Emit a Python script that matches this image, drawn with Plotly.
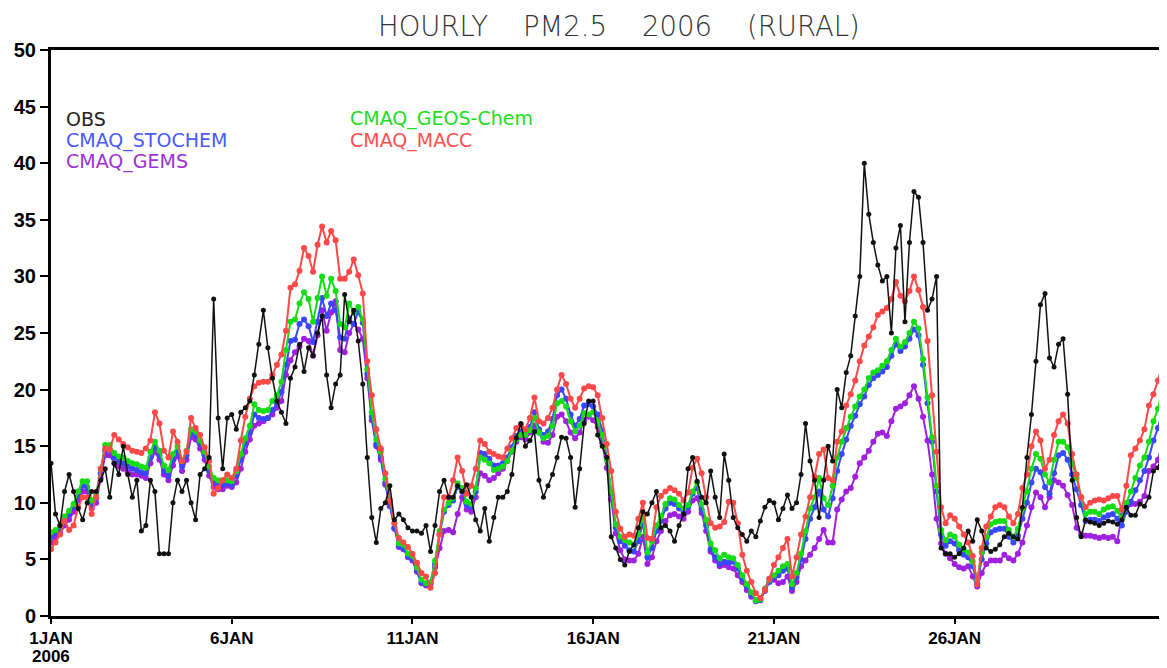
import pandas as pd
import plotly.graph_objects as go

# ---- data (3-hourly readings, 1 Jan 2006 00h onward) ----
obs = [
    13.5, 9, 8, 11, 12.5, 11, 9.5, 8.5,
    10, 11, 11, 12, 13, 10.5, 13.5, 12.5,
    15, 12.5, 10.5, 12, 7.5, 8, 12, 11,
    5.5, 5.5, 5.5, 10, 12, 11, 12, 10,
    8.5, 12.5, 13, 14, 28, 17.5, 13, 17.5,
    17.8, 16.5, 18, 18.4, 19, 21.3, 24, 27,
    23.7, 21, 19, 18, 17, 21, 22, 24,
    21.6, 23.7, 23, 25, 26.5, 21.3, 18.4, 20.5,
    21.3, 28.4, 26, 27, 24.3, 20.5, 14, 8.7,
    6.5, 9.5, 10, 11.5, 8.5, 9, 8.5, 7.8,
    7.5, 7.5, 7.3, 8, 5.7, 8, 11, 12,
    10.5, 10.5, 11.5, 11, 11.6, 10.5, 8.5, 7.5,
    9.5, 6.6, 8.7, 10.5, 10.5, 11, 12.5, 15.7,
    17, 15, 15.5, 16.3, 12, 10.5, 11.5, 12.5,
    14, 15.8, 15.7, 14, 9.6, 13, 17, 19,
    19, 16, 15, 14, 7, 6, 5, 4.5,
    5.7, 6.3, 7.8, 9.2, 9, 10, 11, 7.8,
    8, 7.5, 6.6, 8, 9, 13, 14, 11.9,
    10.5, 10, 12.8, 10.5, 8.7, 14.3, 12, 8.7,
    7.8, 7.2, 6.6, 7.5, 7, 8.4, 9.6, 10.2,
    10, 8.5, 9.5, 10.7, 9.5, 10, 12.5, 17,
    13.7, 12, 8.7, 12, 15, 13.7, 20, 18.4,
    21.5, 23, 26.5, 30, 40, 35.5, 33, 31,
    29.6, 30, 25, 32.5, 34.5, 26, 33, 37.5,
    37, 33, 27, 28, 30, 6, 5.5, 5.5,
    5.2, 5.5, 6, 7.5, 6.6, 8.5, 7.5, 6,
    5.7, 5.9, 6.3, 7, 7.3, 7, 6.8, 9.6,
    14, 17.8, 22.5, 27.5, 28.5, 22.8, 22, 24,
    24.5, 19.6, 12, 8.7, 7, 8.5, 8.3, 8.2,
    8, 8.2, 8.4, 8.3, 8.1, 8.5, 9.6, 8.9,
    8.9, 9.9, 9.7, 10.5, 12.8, 13.1, 14.5, 17,
]

cmaq_stochem = [
    7, 7.3, 7.7, 8.5, 9, 9.6, 10.6, 11.5,
    11.4, 9.8, 10.4, 12.6, 14.6, 14.7, 14, 13.7,
    13.5, 13.2, 13, 12.9, 12.7, 12.6, 14, 15,
    14.2, 12.8, 12.4, 13.8, 14.6, 13.2, 14.2, 16.2,
    16, 15.2, 14.2, 12.8, 11.8, 11.6, 11.6, 11.7,
    11.6, 12.4, 13.8, 15.2, 16.2, 17.8, 17.5, 17.4,
    17.5, 18.2, 18.8, 19.8, 22.2, 24.3, 24.4, 25.8,
    26.2, 25.6, 24.2, 26, 28.1, 26.5, 27.6, 27,
    24.6, 24.5, 26.3, 25.8, 26.9, 25.9, 21.4, 17.6,
    15.2, 14, 11.8, 9.8, 7.8, 6.2, 6, 5.3,
    5, 4, 3, 2.8, 2.9, 4.6, 7.2, 9.2,
    9.8, 10.2, 11.4, 11, 9.8, 9.6, 11, 14.4,
    14.3, 13.9, 13.3, 13.3, 13.5, 14, 14.9, 15.9,
    16.3, 16.2, 16.7, 18, 16.5, 16, 16.3, 17.4,
    19.5, 20, 19.2, 17.8, 16.8, 17.4, 18.6, 18.7,
    18.5, 17.8, 16.4, 14, 10.8, 7.8, 6.6, 6.2,
    5.8, 5.7, 6.6, 8.3, 5.2, 6, 7.5, 8.4,
    9.5, 10, 9.9, 9.5, 9.2, 9.6, 10.8, 11.3,
    9.4, 8, 5.9, 5.2, 4.6, 4.8, 4.7, 4.8,
    4.2, 3.3, 2.6, 1.9, 1.3, 1.4, 2.2, 3,
    3.4, 3.6, 4, 4.2, 2.5, 3.4, 5, 6.8,
    8.6, 9.6, 11, 9.4, 8.8, 10.4, 12.8, 14.3,
    15.6, 16.8, 17.7, 18.7, 19.4, 20.4, 21, 21.3,
    21.6, 22, 23, 24, 23.4, 23.8, 24.5, 25.3,
    24.8, 22.2, 18.8, 15.4, 11, 7.2, 6.2, 6.6,
    6.4, 5.8, 5.4, 5.2, 4.4, 2.9, 5, 6.4,
    7.4, 7.6, 7.7, 7.7, 7, 6.5, 7.1, 8.6,
    10, 11.8, 13, 12.7, 11.4, 10.8, 12.6, 14.2,
    14.4, 13.8, 12.5, 11.2, 9.8, 8.4, 8.5, 8.5,
    8.4, 8.7, 8.9, 9, 8.6, 8, 9.2, 10.1,
    11.1, 12, 12.8, 14, 15.5, 16.6, 18.2, 19.4,
]

cmaq_gems = [
    6.5, 6.9, 7.3, 8, 8.5, 9.2, 10.2, 11,
    11, 9.5, 10, 12.2, 14.2, 14.2, 13.5, 13.2,
    13, 12.7, 12.5, 12.5, 12.4, 12.2, 13.5, 14.5,
    13.8, 12.5, 12, 13.3, 14.2, 12.8, 13.8, 15.8,
    15.6, 14.8, 13.8, 12.4, 11.4, 11.2, 11.2, 11.5,
    11.4, 11.8, 13, 14.5, 15.6, 16.8, 17, 17.2,
    17.5, 17.8, 18.4, 19, 21.3, 22.6, 23.3, 23.8,
    24.5, 24.3, 23, 24.8, 27, 25.2, 26.8, 27.8,
    23.5, 23.3, 25, 25.8, 25.3, 24.5, 21, 17.3,
    15, 13.8, 11.6, 9.7, 7.7, 6.1, 5.9, 5.2,
    4.9, 3.9, 2.9, 2.7, 2.8, 4.3, 6, 7.5,
    7.6, 7.4, 9, 10.5, 9.4, 9.2, 10.5, 12.6,
    12.4, 12, 12.2, 12.6, 13, 13.7, 14.5, 15.4,
    15.8, 15.6, 16.2, 16.8, 16.2, 15.4, 15.3, 16,
    17.6, 17.8, 17.2, 16.2, 15.7, 16.2, 17.3, 17.6,
    17.3, 16.7, 15.3, 13.1, 10.3, 7.3, 5.8, 5,
    4.9, 4.9, 5.5, 7, 4.6, 5.2, 6.6, 7.5,
    8.4, 8.9, 9, 8.8, 8.6, 9.2, 10.2, 10.4,
    9.1, 7.5, 5.7, 4.9, 4.4, 4.5, 4.3, 4.2,
    3.6, 3, 2.3, 1.7, 1.4, 1.5, 2.4, 3.3,
    3.2, 2.9, 3, 3.5, 2.2, 3, 4.4, 4.9,
    5.4, 6, 6.8, 7.6, 6.5, 6.5, 9.4, 10.3,
    11, 11.3, 12.3, 13.5, 14, 14.6, 15.4, 16.1,
    16.2, 15.9, 17.2, 18.3, 18.5, 18.8, 19.5, 20.3,
    19.2, 17.6, 15.5, 12.5, 8.6, 6.4, 5.5, 5.1,
    4.6, 4.3, 4.2, 4.4, 3.5, 2.6, 3.8, 4.6,
    4.9, 4.9, 4.9, 5.4, 5.1, 4.9, 5.5, 6.5,
    8, 9.6, 10.9, 10.5, 9.6, 10.5, 12, 11.8,
    11.5, 10.7, 9.8, 7.8, 7.2, 7.1, 7.1, 7,
    6.9, 7, 6.9, 7, 6.6, 8.9, 9.6, 9.9,
    9.9, 10.1, 10.6, 12.8, 13.2, 13.8, 15.5, 17,
]

cmaq_geos_chem = [
    7.4, 7.6, 8, 8.8, 9.3, 9.9, 11, 11.9,
    11.9, 10.2, 10.8, 13, 15.1, 15.1, 14.4, 14.1,
    14, 13.7, 13.5, 13.4, 13.2, 13.1, 14.5, 15.4,
    14.6, 13.3, 12.9, 14.3, 15, 13.7, 14.6, 16.5,
    16.3, 15.5, 14.5, 13.2, 12.2, 12, 12, 12,
    11.9, 12.8, 14.3, 15.7, 16.8, 18.7, 18.2, 18.1,
    18.2, 19, 19.5, 20.7, 23.5, 26, 26.2, 27.6,
    28.6, 28, 26, 28.1, 30, 28.3, 29.8, 28.7,
    25.8, 25.5, 27.6, 26.8, 27.3, 26.2, 21.8, 18,
    15.6, 14.5, 12.1, 10.2, 8.2, 6.4, 6.3, 5.5,
    5.3, 4.3, 3.2, 2.9, 3, 4.9, 7.5, 9.4,
    10, 10.4, 11.7, 11.3, 10.1, 9.9, 11.3, 14,
    13.8, 13.5, 12.9, 13, 13.2, 13.7, 14.6, 15.6,
    16, 16, 16.4, 17.5, 16.2, 15.7, 15.9, 16.8,
    18.8, 19, 18.5, 17.2, 16.3, 16.8, 17.9, 17.8,
    18, 17.2, 16, 13.8, 11, 8.1, 7, 6.7,
    6.5, 6.3, 7.2, 8.8, 5.6, 6.6, 8, 8.8,
    9.9, 10.4, 10.3, 9.8, 9.5, 9.8, 11, 11.8,
    9.9, 8.5, 6.4, 5.8, 5.1, 5.4, 5.2, 5.1,
    4.5, 3.6, 2.8, 2.1, 1.4, 1.5, 2.4, 3.2,
    3.6, 4, 4.4, 4.6, 2.8, 3.8, 5.5, 7.5,
    9.5, 10.5, 12.2, 10.4, 9.8, 11.5, 14, 15.4,
    16.6, 17.6, 18.5, 19.4, 20, 21, 21.5, 21.7,
    22.1, 22.5, 23.5, 24.5, 23.8, 24.2, 25, 26,
    25.4, 22.7, 19.3, 15.8, 11.5, 7.6, 6.7, 7.2,
    7, 6.3, 5.9, 5.6, 4.8, 3.2, 5.6, 7,
    8.1, 8.3, 8.4, 8.4, 7.6, 7, 7.7, 9.5,
    11, 13, 14.3, 13.9, 12.5, 11.8, 13.8, 15.4,
    15.4, 14.9, 13.5, 12.2, 10.5, 9, 9.2, 9.2,
    9, 9.4, 9.6, 9.7, 9.3, 8.6, 10, 11,
    12.2, 13.3, 14, 15.4, 17.2, 18.3, 20, 21.3,
]

cmaq_macc = [
    5.9, 6.5, 7.2, 8.4, 7.6, 8, 9.6, 10.5,
    10.5, 9, 10.5, 13, 14.8, 14.7, 16, 15.6,
    15.2, 14.9, 14.6, 14.5, 14.4, 14.8, 15.5, 18,
    17, 14.6, 14, 16.3, 15.4, 13.7, 14.5, 17.5,
    16.6, 16, 14.9, 13.7, 10.8, 11.3, 12, 12.5,
    12.2, 13, 15.5, 17.6, 19.2, 20.3, 20.6, 20.7,
    20.7, 21.3, 22.2, 23.1, 25.2, 29, 29.3, 30.5,
    32.5, 31.8, 30.4, 32.8, 34.4, 33, 34, 33.2,
    29.8, 29.8, 30.4, 31.5, 30.1, 28.5, 22.5, 19.5,
    16.5, 14.8, 12.6, 10.2, 8.2, 6.9, 6.5, 6.1,
    5.5, 4.7, 3.8, 3.5, 2.5, 3.8, 7.2, 10.5,
    10.5, 12, 14, 12.8, 10.8, 11.5, 13, 15.5,
    15.2, 14.5, 14.3, 14.1, 14, 14.8, 15.7, 16.6,
    16.9, 16.5, 17.5, 19.3, 17.2, 17, 17.5, 18.4,
    20, 21.3, 20.5, 19.2, 18.4, 19.2, 20.1, 20.3,
    20.2, 19.5, 17.5, 15.2, 12.8, 9.2, 7.7, 7,
    7.2, 7.1, 8.6, 10, 6.9, 6.8, 9.6, 10.6,
    11, 11.3, 11.1, 10.8, 10.2, 10.9, 13.1, 13.9,
    12.6, 10.5, 8.2, 7.8, 7.9, 8.3, 10.1, 10,
    8.2, 5.4, 4, 3, 2, 1.6, 2.3, 3.3,
    4.5, 5.2, 6, 6.8, 3.5, 5.2, 7.2, 8.8,
    10.5, 12.3, 14.3, 14.7, 12.2, 12, 15.4, 16.3,
    18.6, 19.6, 20.8, 22.5, 23.9, 24.7, 25.5, 26.6,
    26.9, 27.2, 28, 29.5, 28.3, 27.8, 28.7, 30,
    28.8, 27.3, 24.3, 19.5, 14.5, 9.6, 8.2, 8.9,
    8.6, 7.9, 7.2, 6.5, 5.3, 2.8, 6, 7.9,
    8.8, 9.6, 9.8, 9.6, 8.8, 8.2, 9, 11.3,
    12.5, 15, 16.3, 15.5, 13, 13.8, 16, 17.2,
    17.8, 17, 14.3, 12.5, 10.5, 9.6, 10, 10.2,
    10.3, 10.2, 10.4, 10.6, 10.6, 9.4, 11.5, 14.2,
    14.8, 15.5, 16.5, 18.6, 19.6, 20.8, 22.3, 24,
]

tick_dates = ["2006-01-01", "2006-01-06", "2006-01-11", "2006-01-16", "2006-01-21", "2006-01-26"]
tick_labels = ["1JAN", "6JAN", "11JAN", "16JAN", "21JAN", "26JAN"]
year_label = "2006"

times = pd.date_range("2006-01-01 00:00", periods=len(obs), freq="3h")

series = [
    ("CMAQ_GEMS", cmaq_gems, "#a020e0", 6, 2),
    ("CMAQ_STOCHEM", cmaq_stochem, "#3a46ff", 6, 2),
    ("CMAQ_GEOS-Chem", cmaq_geos_chem, "#14dd14", 6, 2),
    ("CMAQ_MACC", cmaq_macc, "#ff4848", 6, 2),
    ("OBS", obs, "#111111", 5, 1.5),
]

fig = go.Figure()
for name, vals, col, msz, lw in series:
    fig.add_trace(go.Scatter(
        x=times, y=vals, name=name, mode="lines+markers",
        line=dict(color=col, width=lw),
        marker=dict(color=col, size=msz, symbol="circle"),
        showlegend=False,
    ))

# page body adds an 8px offset; figure is sized so the plot lands where the reference has it
OFF = 8
W, H = 1167 - OFF, 668 - OFF
ML, MR, MT, MB = 51 - OFF, 0, 50 - OFF, 52

fig.update_layout(
    width=W, height=H,
    margin=dict(l=ML, r=MR, t=MT, b=MB, autoexpand=False),
    paper_bgcolor="white", plot_bgcolor="white",
    showlegend=False,
)
fig.update_xaxes(
    type="date", automargin=False,
    range=["2006-01-01 00:00", "2006-01-31 21:00"],
    tickmode="array", tickvals=tick_dates, ticktext=tick_labels,
    ticks="outside", ticklen=5, tickwidth=2, tickcolor="black",
    showline=True, linewidth=3, linecolor="black", mirror=True,
    showgrid=False, zeroline=False,
    tickfont=dict(family="Liberation Sans", size=17, color="black", weight="bold"),
)
fig.update_yaxes(
    automargin=False,
    range=[0, 50], dtick=5, tick0=0,
    ticks="outside", ticklen=8, tickwidth=2, tickcolor="black",
    showline=True, linewidth=3, linecolor="black", mirror=False,
    showgrid=False, zeroline=False,
    tickfont=dict(family="Liberation Sans", size=20, color="black", weight="bold"),
)

plot_w = W - ML - MR
plot_h = H - MT - MB

def px_x(px):
    return (px - OFF - ML) / plot_w

def px_y(py):
    return 1 - (py - OFF - MT) / plot_h

# year under the first date label
fig.add_annotation(
    text=year_label, xref="x", yref="paper", x=tick_dates[0], y=px_y(656),
    xanchor="center", yanchor="middle", showarrow=False,
    font=dict(family="Liberation Sans", size=17, color="black", weight="bold"),
)

sp = "\u00a0\u00a0\u00a0\u00a0"
fig.add_annotation(
    text="HOURLY" + sp + "PM2.5" + sp + "2006" + sp + "(RURAL)",
    xref="paper", yref="paper", x=px_x(619), y=px_y(26),
    xanchor="center", yanchor="middle", showarrow=False,
    font=dict(family="DejaVu Sans", size=27.5, color="#333333", weight=200),
)

legend_items = [
    ("OBS", "#222222", 64, 119),
    ("CMAQ_STOCHEM", "#4a5aff", 64, 140),
    ("CMAQ_GEMS", "#a030d8", 64, 161),
    ("CMAQ_GEOS-Chem", "#22dd22", 348, 119),
    ("CMAQ_MACC", "#ff5050", 348, 140),
]
for txt, col, lx, ly in legend_items:
    fig.add_annotation(
        text=txt, xref="paper", yref="paper", x=px_x(lx), y=px_y(ly),
        xanchor="left", yanchor="middle", showarrow=False,
        font=dict(family="DejaVu Sans", size=19, color=col),
    )

fig.write_html("out.html")
